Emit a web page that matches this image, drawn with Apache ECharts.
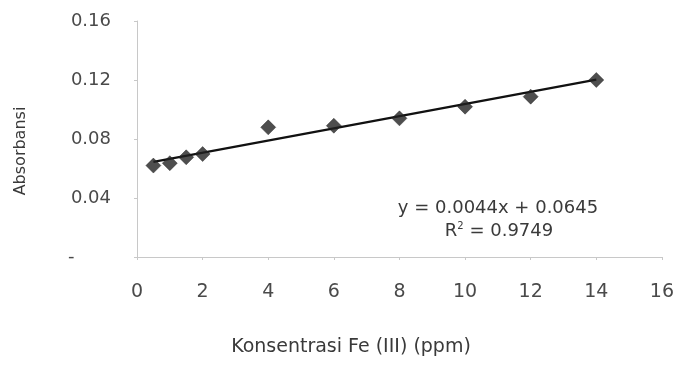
<!DOCTYPE html>
<html><head><meta charset="utf-8">
<script src="https://cdn.jsdelivr.net/npm/echarts@6/dist/echarts.min.js"></script>
<style>html,body{margin:0;padding:0;background:#fff}#c{width:677px;height:371px}</style>
</head><body><div id="c"></div>
<script>
const concentration = [0.5, 1, 1.5, 2, 4, 6, 8, 10, 12, 14];
const absorbance = [0.0620, 0.0636, 0.0676, 0.0698, 0.0879, 0.0890, 0.0940, 0.1019, 0.1087, 0.1200];
const trendX = [0.5, 14];
const trendY = [0.0645, 0.1203];
const xTitle = 'Konsentrasi Fe (III) (ppm)';
const yTitle = 'Absorbansi';
const eqText = 'y = 0.0044x + 0.0645';
const r2Text = '0.9749';

const chart = echarts.init(document.getElementById('c'), null, {renderer: 'canvas'});
const font = 'DejaVu Sans';
chart.setOption({
  animation: false,
  backgroundColor: '#fff',
  grid: {left: 137, right: 12, top: 21, bottom: 114},
  xAxis: {
    type: 'value', min: 0, max: 16, interval: 2,
    axisLine: {lineStyle: {color: '#c8c8c8', width: 1}},
    axisTick: {show: true, length: 3, lineStyle: {color: '#c8c8c8'}},
    splitLine: {show: false},
    axisLabel: {color: '#4a4a4a', fontFamily: font, fontSize: 19, margin: 26}
  },
  yAxis: {
    type: 'value', min: 0, max: 0.16, interval: 0.04,
    axisLine: {show: true, lineStyle: {color: '#c8c8c8', width: 1}},
    axisTick: {show: true, length: 3, lineStyle: {color: '#c8c8c8'}},
    splitLine: {show: false},
    axisLabel: {
      color: '#4a4a4a', fontFamily: font, fontSize: 18, margin: 26,
      formatter: v => v === 0 ? '{d|-}' : v.toFixed(2),
      rich: {d: {width: 43, align: 'left', fontSize: 18, color: '#4a4a4a', fontFamily: font}}
    }
  },
  graphic: [
    {type: 'text', x: 351, y: 347, style: {text: xTitle, fill: '#3a3a3a', font: '19px "DejaVu Sans"', align: 'center', verticalAlign: 'middle'}},
    {type: 'text', x: 21, y: 151, rotation: Math.PI / 2, style: {text: yTitle, fill: '#3a3a3a', font: '16px "DejaVu Sans"', align: 'center', verticalAlign: 'middle'}},
    {type: 'text', x: 498, y: 208, style: {text: eqText, fill: '#3a3a3a', font: '18px "DejaVu Sans"', align: 'center', verticalAlign: 'middle'}},
    {type: 'text', x: 499, y: 231, style: {
      text: '{a|R}{s|2}{a| = ' + r2Text + '}', align: 'center', verticalAlign: 'middle',
      rich: {a: {fontFamily: font, fontSize: 18, fill: '#3a3a3a', color: '#3a3a3a'}, s: {fontFamily: font, fontSize: 10, verticalAlign: 'top', padding: [0, 0, 10, 0], color: '#3a3a3a', fill: '#3a3a3a'}}
    }}
  ],
  series: [
    {
      type: 'line', data: trendX.map((x, i) => [x, trendY[i]]),
      showSymbol: false, symbol: 'none',
      lineStyle: {color: '#111', width: 2.2}, z: 2
    },
    {
      type: 'scatter', data: concentration.map((x, i) => [x, absorbance[i]]),
      symbol: 'diamond', symbolSize: 15,
      itemStyle: {color: '#222', borderColor: '#1a1a1a', borderWidth: 0.5}, z: 3
    }
  ]
});
</script></body></html>
